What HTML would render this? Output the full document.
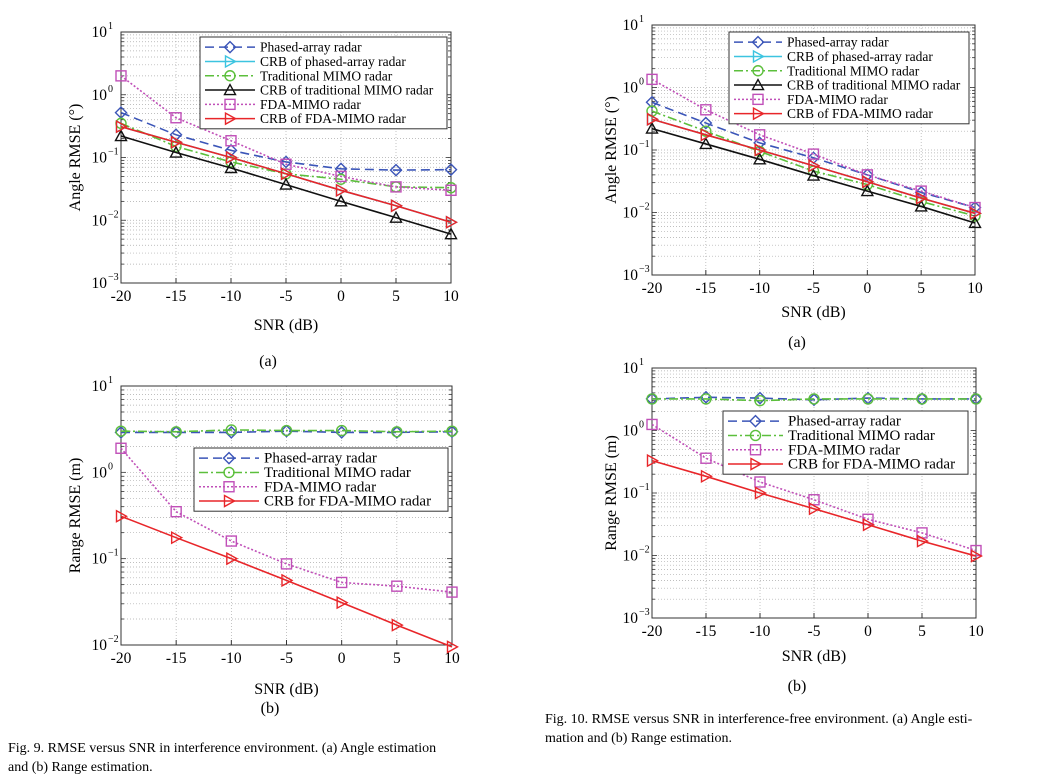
<!DOCTYPE html>
<html><head><meta charset="utf-8">
<style>
body{margin:0;background:#fff;font-family:"Liberation Serif",serif;}
svg{display:block}
</style></head><body>
<svg id="fig" width="1055" height="777" viewBox="0 0 1055 777" xmlns="http://www.w3.org/2000/svg" font-family="Liberation Serif, serif">
<text x="8" y="752" font-size="14">Fig. 9.  RMSE versus SNR in interference environment. (a) Angle estimation</text>
<text x="8" y="771" font-size="14">and (b) Range estimation.</text>
<text x="545" y="723" font-size="14">Fig. 10.  RMSE versus SNR in interference-free environment. (a) Angle esti-</text>
<text x="545" y="742" font-size="14">mation and (b) Range estimation.</text>
</svg>
<script>
const snr=[-20,-15,-10,-5,0,5,10];
const xTicks=["-20","-15","-10","-5","0","5","10"];
// Fig 9(a)
const a_pa=[0.52,0.23,0.13,0.085,0.066,0.063,0.064];
const a_crbpa=[0.31,0.175,0.1,0.055,0.03,0.017,0.0093];
const a_mimo=[0.35,0.15,0.085,0.055,0.045,0.034,0.033];
const a_crbmimo=[0.22,0.12,0.068,0.037,0.02,0.011,0.006];
const a_fda=[2.0,0.43,0.185,0.078,0.05,0.034,0.03];
const a_crbfda=[0.31,0.175,0.1,0.055,0.03,0.017,0.0093];
// Fig 9(b)
const b_pa=[2.9,2.9,2.9,3.0,2.9,2.9,2.95];
const b_mimo=[3.0,2.95,3.1,3.05,3.05,2.95,3.0];
const b_fda=[1.9,0.35,0.16,0.087,0.053,0.048,0.041];
const b_crbfda=[0.31,0.175,0.1,0.056,0.031,0.017,0.0095];
// Fig 10(a)
const c_pa=[0.58,0.27,0.13,0.075,0.04,0.021,0.012];
const c_crbpa=[0.31,0.175,0.1,0.056,0.031,0.017,0.0097];
const c_mimo=[0.42,0.2,0.095,0.046,0.028,0.015,0.0088];
const c_crbmimo=[0.22,0.125,0.071,0.039,0.022,0.0125,0.0068];
const c_fda=[1.35,0.44,0.175,0.086,0.04,0.022,0.012];
const c_crbfda=[0.31,0.175,0.1,0.056,0.031,0.017,0.0097];
// Fig 10(b)
const d_pa=[3.2,3.4,3.3,3.1,3.3,3.2,3.2];
const d_mimo=[3.2,3.2,3.0,3.2,3.2,3.2,3.2];
const d_fda=[1.25,0.36,0.15,0.078,0.038,0.023,0.012];
const d_crbfda=[0.33,0.185,0.1,0.056,0.031,0.017,0.0098];

const NS='http://www.w3.org/2000/svg';
const svg=document.getElementById('fig');
function mk(tag,attrs,parent){const e=document.createElementNS(NS,tag);for(const k in attrs)e.setAttribute(k,attrs[k]);(parent||svg).appendChild(e);return e;}
const ST={
 pa:{c:'#3b55b8',dash:'9,5',m:'diamond'},
 crbpa:{c:'#3cc4e0',dash:'',m:'tri'},
 mimo:{c:'#5cbf3c',dash:'9,3,2,3',m:'circle'},
 crbmimo:{c:'#111',dash:'',m:'tri-up'},
 fda:{c:'#c04fb8',dash:'2,2',m:'square'},
 crbfda:{c:'#e8262a',dash:'',m:'tri'}
};
function marker(g,t,x,y,c){
 const a={fill:'none',stroke:c,'stroke-width':1.4};
 let e;
 if(t==='diamond')e=mk('polygon',Object.assign({points:`${x},${y-5.5} ${x+5.5},${y} ${x},${y+5.5} ${x-5.5},${y}`},a),g);
 else if(t==='circle')e=mk('circle',Object.assign({cx:x,cy:y,r:5},a),g);
 else if(t==='square')e=mk('rect',Object.assign({x:x-5,y:y-5,width:10,height:10},a),g);
 else if(t==='tri')e=mk('polygon',Object.assign({points:`${x-4.5},${y-5.5} ${x+5.5},${y} ${x-4.5},${y+5.5}`},a),g);
 else e=mk('polygon',Object.assign({points:`${x},${y-5.5} ${x+5.5},${y+4.5} ${x-5.5},${y+4.5}`},a),g);
 
 
}
function panel(p){
 const g=mk('g',{});
 
 
 const xs=v=>p.L+(v-(-20))/30*(p.R-p.L);
 const ys=v=>p.B-(Math.log10(v)-p.lo)/(p.hi-p.lo)*(p.B-p.T);
 for(let d=p.lo;d<p.hi;d++){for(let k=1;k<10;k++){const v=k*Math.pow(10,d);const y=ys(v);if(k>1||d>p.lo){mk('line',{x1:p.L,x2:p.R,y1:y,y2:y,stroke:'#aaa','stroke-width':0.7,'stroke-dasharray':'1,2'},g);}
  mk('line',{x1:p.L,x2:p.L+(k==1?5:3),y1:y,y2:y,stroke:'#333','stroke-width':0.8},g);
  mk('line',{x1:p.R,x2:p.R-(k==1?5:3),y1:y,y2:y,stroke:'#333','stroke-width':0.8},g);}}
 snr.forEach((s,i)=>{const x=xs(s);if(i>0&&i<6)mk('line',{x1:x,x2:x,y1:p.T,y2:p.B,stroke:'#aaa','stroke-width':0.7,'stroke-dasharray':'1,2'},g);
  mk('line',{x1:x,x2:x,y1:p.B,y2:p.B-5,stroke:'#333'},g);
  const t=mk('text',{x:x,y:p.B+18,'font-size':15.5,'text-anchor':'middle'},g);t.textContent=xTicks[i];
  });
 for(let d=p.lo;d<=p.hi;d++){const y=ys(Math.pow(10,d));
  const t=mk('text',{x:p.L-14,y:y+5,'font-size':15.5,'text-anchor':'end'},g);t.textContent='10';
  
  const s=mk('text',{x:p.L-13,y:y-3,'font-size':10},g);s.textContent=d<0?'\u2212'+(-d):''+d;}
 mk('rect',{x:p.L,y:p.T,width:p.R-p.L,height:p.B-p.T,fill:'none',stroke:'#333','stroke-width':1},g);
 p.series.forEach(s=>{const st=ST[s.k];
  const sg=mk('g',{},g);
  
  const pts=s.v.map((v,i)=>xs(snr[i])+','+ys(v)).join(' ');
  mk('polyline',{points:pts,fill:'none',stroke:st.c,'stroke-width':1.6,'stroke-dasharray':st.dash},sg);
  s.v.forEach((v,i)=>marker(sg,st.m,xs(snr[i]),ys(v),st.c));});
 const lg=mk('g',{},g);
 
 const lb=p.leg;
 mk('rect',{x:lb.x,y:lb.y,width:lb.w,height:lb.rh*p.legItems.length+6,fill:'#fff',stroke:'#333'},lg);
 p.legItems.forEach((it,i)=>{const st=ST[it[0]];const y=lb.y+3+lb.rh*(i+0.5);
  mk('line',{x1:lb.x+5,x2:lb.x+lb.ln,y1:y,y2:y,stroke:st.c,'stroke-width':1.5,'stroke-dasharray':st.dash},lg);
  marker(lg,st.m,lb.x+5+(lb.ln-5)/2,y,st.c);
  const t=mk('text',{x:lb.x+lb.ln+5,y:y+4.5,'font-size':lb.fs},lg);t.textContent=it[1];
  });
 const xt=mk('text',{x:(p.L+p.R)/2,y:p.xlY,'font-size':16,'text-anchor':'middle'},g);xt.textContent='SNR (dB)';
 
 const yt=mk('text',{x:0,y:0,'font-size':16,'text-anchor':'middle',transform:`translate(${p.ylX},${(p.T+p.B)/2}) rotate(-90)`},g);yt.textContent=p.ylab;
 
 const sl=mk('text',{x:p.subX,y:p.subY,'font-size':16,'text-anchor':'middle'},g);sl.textContent=p.sub;
 
}
const L6=[['pa','Phased-array radar'],['crbpa','CRB of phased-array radar'],['mimo','Traditional MIMO radar'],['crbmimo','CRB of traditional MIMO radar'],['fda','FDA-MIMO radar'],['crbfda','CRB of FDA-MIMO radar']];
const L4=[['pa','Phased-array radar'],['mimo','Traditional MIMO radar'],['fda','FDA-MIMO radar'],['crbfda','CRB for FDA-MIMO radar']];
panel({name:'fig9a-chart',L:121,R:451,T:32,B:283,lo:-3,hi:1,ylab:'Angle RMSE (°)',ylX:80,xlY:330,sub:'(a)',subX:268,subY:366,
 series:[{k:'crbpa',v:a_crbpa},{k:'pa',v:a_pa},{k:'mimo',v:a_mimo},{k:'crbmimo',v:a_crbmimo},{k:'fda',v:a_fda},{k:'crbfda',v:a_crbfda}],
 leg:{x:200,y:37,w:247,rh:14.3,ln:55,fs:13.5},legItems:L6});
panel({name:'fig9b-chart',L:121,R:452,T:386,B:645,lo:-2,hi:1,ylab:'Range RMSE (m)',ylX:80,xlY:694,sub:'(b)',subX:270,subY:713,
 series:[{k:'pa',v:b_pa},{k:'mimo',v:b_mimo},{k:'fda',v:b_fda},{k:'crbfda',v:b_crbfda}],
 leg:{x:194,y:448,w:254,rh:14.3,ln:65,fs:15},legItems:L4});
panel({name:'fig10a-chart',L:652,R:975,T:25,B:275,lo:-3,hi:1,ylab:'Angle RMSE (°)',ylX:616,xlY:317,sub:'(a)',subX:797,subY:347,
 series:[{k:'crbpa',v:c_crbpa},{k:'pa',v:c_pa},{k:'mimo',v:c_mimo},{k:'crbmimo',v:c_crbmimo},{k:'fda',v:c_fda},{k:'crbfda',v:c_crbfda}],
 leg:{x:729,y:32,w:240,rh:14.3,ln:53,fs:13.5},legItems:L6});
panel({name:'fig10b-chart',L:652,R:976,T:368,B:618,lo:-3,hi:1,ylab:'Range RMSE (m)',ylX:616,xlY:661,sub:'(b)',subX:797,subY:691,
 series:[{k:'pa',v:d_pa},{k:'mimo',v:d_mimo},{k:'fda',v:d_fda},{k:'crbfda',v:d_crbfda}],
 leg:{x:723,y:411,w:245,rh:14.3,ln:60,fs:15},legItems:L4});
</script>
</body></html>
